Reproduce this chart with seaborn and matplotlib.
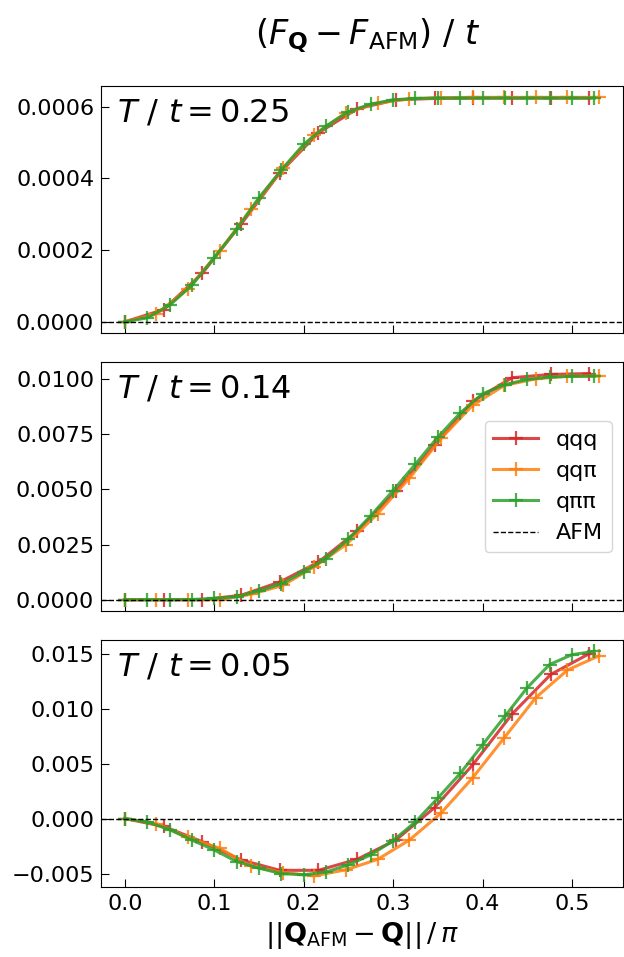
"""Freie-Energie-Differenz zur AFM-Phase entlang dreier Pfade, drei Temperaturen."""

import matplotlib
matplotlib.use('Agg')
import matplotlib.pyplot as plt
import seaborn as sns

# Abstand ||Q_AFM - Q|| / pi fuer die drei Pfade
X_QQQ = [0.0, 0.0433, 0.0866, 0.1299, 0.1732, 0.2165, 0.2598, 0.3031, 0.3464,
         0.3897, 0.4330, 0.4763, 0.5196]
X_QQPI = [0.0, 0.0354, 0.0707, 0.1061, 0.1414, 0.1768, 0.2121, 0.2475, 0.2828,
          0.3182, 0.3536, 0.3889, 0.4243, 0.4596, 0.4950, 0.5303]
X_QPIPI = [0.0, 0.025, 0.05, 0.075, 0.1, 0.125, 0.15, 0.175, 0.2, 0.225, 0.25,
           0.275, 0.3, 0.325, 0.35, 0.375, 0.4, 0.425, 0.45, 0.475, 0.5, 0.525]

# T/t = 0.25
TOP_QQQ = [0, 3.4e-5, 1.35e-4, 2.72e-4, 4.15e-4, 5.27e-4, 5.94e-4, 6.19e-4,
           6.23e-4, 6.24e-4, 6.24e-4, 6.24e-4, 6.24e-4]
TOP_QQPI = [0, 2.2e-5, 9.2e-5, 1.97e-4, 3.15e-4, 4.28e-4, 5.22e-4, 5.83e-4,
            6.10e-4, 6.22e-4, 6.25e-4, 6.26e-4, 6.26e-4, 6.26e-4, 6.26e-4, 6.26e-4]
TOP_QPIPI = [0, 1.1e-5, 4.6e-5, 1.02e-4, 1.79e-4, 2.58e-4, 3.46e-4, 4.23e-4,
             4.95e-4, 5.46e-4, 5.86e-4, 6.07e-4, 6.19e-4, 6.23e-4, 6.24e-4,
             6.24e-4, 6.24e-4, 6.24e-4, 6.24e-4, 6.24e-4, 6.24e-4, 6.24e-4]

# T/t = 0.14
MID_QQQ = [0, 0, 0, 0.0002, 0.0008, 0.0017, 0.0031, 0.0049, 0.0070, 0.0090,
           0.01005, 0.0102, 0.01024]
MID_QQPI = [0, 0, 0, 0, 0.00025, 0.00065, 0.0015, 0.0025, 0.0039, 0.0055,
            0.0073, 0.0088, 0.0097, 0.0100, 0.01012, 0.01013]
MID_QPIPI = [0, 0, 0, 0.00001, 0.00006, 0.00014, 0.0004, 0.00072, 0.00126,
             0.00186, 0.00274, 0.0038, 0.00494, 0.00614, 0.00736, 0.00845,
             0.00932, 0.00974, 0.00997, 0.01008, 0.01011, 0.01012]

# T/t = 0.05
BOT_QQQ = [0, -0.0007, -0.0021, -0.00375, -0.0047, -0.0047, -0.0037, -0.00195,
           0.0010, 0.00495, 0.0095, 0.0131, 0.0150]
BOT_QQPI = [0, -0.00045, -0.0017, -0.0027, -0.00435, -0.0049, -0.0052, -0.00465,
            -0.0037, -0.00195, 0.0005, 0.0037, 0.00735, 0.0110, 0.0135, 0.0148]
BOT_QPIPI = [0, -0.0003, -0.0010, -0.00195, -0.00285, -0.0039, -0.0045, -0.0050,
             -0.0051, -0.00486, -0.0042, -0.0033, -0.0020, -0.0003, 0.00186,
             0.0041, 0.0067, 0.0093, 0.0119, 0.0140, 0.0149, 0.0152]

TEMPS = ['0.25', '0.14', '0.05']
LABELS = ['qqq', 'qqπ', 'qππ']
COLORS = ['#d62728', '#ff7f0e', '#2ca02c']


def main():
    plt.rcParams['xtick.direction'] = 'in'
    plt.rcParams['ytick.direction'] = 'in'
    plt.rcParams['font.size'] = 16

    panels = [
        (TOP_QQQ, TOP_QQPI, TOP_QPIPI),
        (MID_QQQ, MID_QQPI, MID_QPIPI),
        (BOT_QQQ, BOT_QQPI, BOT_QPIPI),
    ]
    xs = [X_QQQ, X_QQPI, X_QPIPI]

    fig = plt.figure(figsize=(6.24, 9.57), dpi=100)
    boxes = [[0.162, 0.652, 0.836, 0.258],
             [0.162, 0.3615, 0.836, 0.260],
             [0.162, 0.0731, 0.836, 0.258]]
    axes = []
    for box in boxes:
        ax = fig.add_axes(box, sharex=axes[0] if axes else None)
        axes.append(ax)

    for ax, ys, temp in zip(axes, panels, TEMPS):
        for x, y, lab, col in zip(xs, ys, LABELS, COLORS):
            sns.lineplot(x=x, y=y, ax=ax, color=col, alpha=0.85, lw=2.2,
                         marker='+', markersize=10, markeredgewidth=1.6,
                         markeredgecolor=col, label=lab, legend=False)
        ax.axhline(0, color='black', ls='--', lw=1, label='AFM')
        ax.text(0.03, 0.955, rf'$T\ /\ t = {temp}$', transform=ax.transAxes,
                ha='left', va='top', fontsize=23)
        ax.tick_params(labelsize=16, length=6, pad=5)

    for ax in axes[:2]:
        ax.tick_params(labelbottom=False)

    axes[1].legend(loc='center right', fontsize=16, handlelength=2.0)
    axes[2].set_xlabel(r'$||\mathbf{Q}_{\mathrm{AFM}} - \mathbf{Q}||\,/\,\pi$',
                       fontsize=19.5)
    fig.text(0.59, 0.963, r'$(F_{\mathbf{Q}} - F_{\mathrm{AFM}})\ /\ t$',
             ha='center', va='center', fontsize=24)

    fig.savefig('out.png', dpi=100)
    plt.close(fig)


if __name__ == '__main__':
    main()
